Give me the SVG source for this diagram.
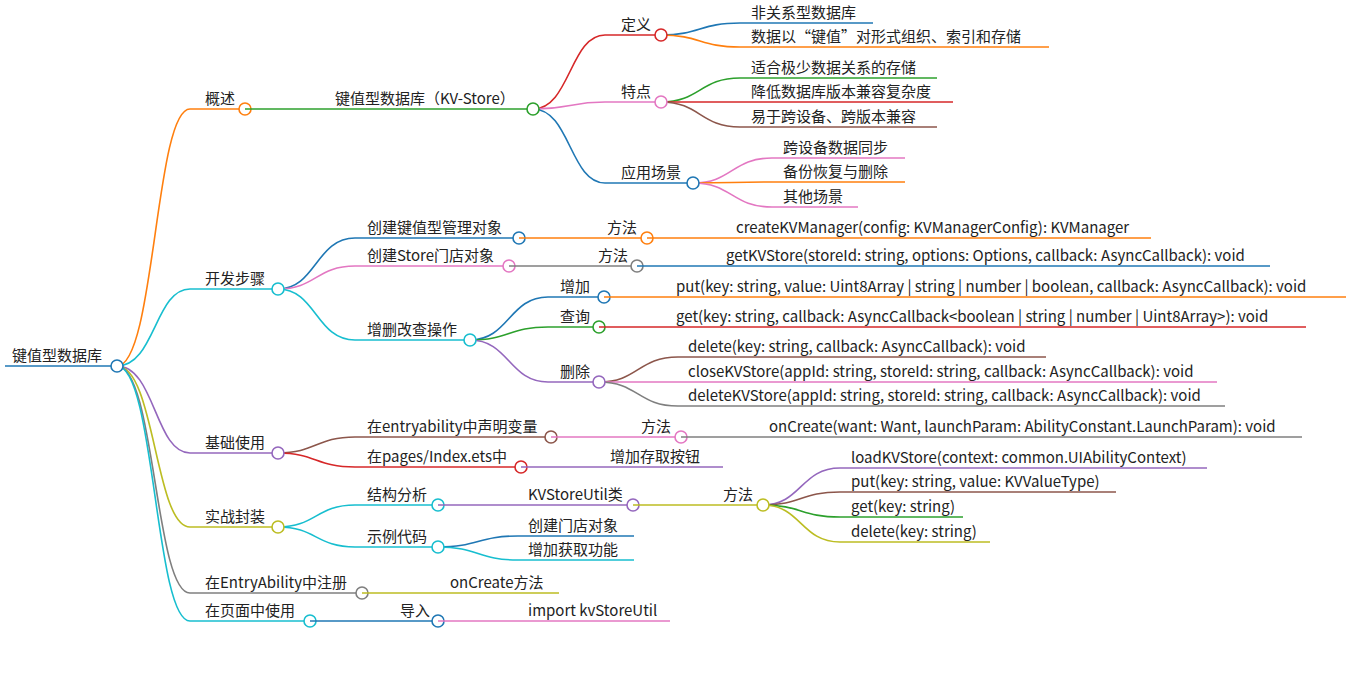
<svg xmlns="http://www.w3.org/2000/svg" width="1351" height="674" viewBox="0 0 1351 674">
<style>
text{font-family:"Noto Sans CJK SC","Liberation Sans",sans-serif;font-size:15px;fill:#222}
path,line{fill:none;stroke-width:1.6}
circle{fill:#fff;stroke-width:1.6}
.b{stroke:#1f77b4}.o{stroke:#ff7f0e}.g{stroke:#2ca02c}.r{stroke:#d62728}.p{stroke:#9467bd}.n{stroke:#8c564b}.k{stroke:#e377c2}.y{stroke:#7f7f7f}.l{stroke:#bcbd22}.c{stroke:#17becf}
</style>
<rect width="1351" height="674" fill="#fff"/>
<g id="connectors">
<path class="o" d="M117 366C155 366 155 109 190 109"/>
<path class="c" d="M117 366C155 366 155 289 190 289"/>
<path class="p" d="M117 366C155 366 155 453 190 453"/>
<path class="l" d="M117 366C155 366 155 527 190 527"/>
<path class="y" d="M117 366C155 366 155 593 190 593"/>
<path class="c" d="M117 366C155 366 155 621 190 621"/>
<path class="r" d="M533 109C570 109 570 35 605 35"/>
<path class="k" d="M533 109C570 109 570 102 605 102"/>
<path class="b" d="M533 109C570 109 570 183 605 183"/>
<path class="b" d="M661 35C700 35 700 23 740 23"/>
<path class="o" d="M661 35C700 35 700 47 740 47"/>
<path class="g" d="M661 102C700 102 700 78 740 78"/>
<path class="r" d="M661 102C700 102 700 102 740 102"/>
<path class="n" d="M661 102C700 102 700 127 740 127"/>
<path class="k" d="M693 183C732 183 732 158 772 158"/>
<path class="o" d="M693 183C732 183 732 182 772 182"/>
<path class="k" d="M693 183C732 183 732 207 772 207"/>
<path class="b" d="M278 289C316 289 316 238 355 238"/>
<path class="k" d="M278 289C316 289 316 266 355 266"/>
<path class="c" d="M278 289C316 289 316 340 355 340"/>
<path class="b" d="M470 340C509 340 509 297 548 297"/>
<path class="g" d="M470 340C509 340 509 327 548 327"/>
<path class="p" d="M470 340C509 340 509 382 548 382"/>
<path class="n" d="M599 382C638 382 638 357 678 357"/>
<path class="k" d="M599 382C638 382 638 382 678 382"/>
<path class="y" d="M599 382C638 382 638 406 678 406"/>
<path class="n" d="M278 453C316 453 316 437 355 437"/>
<path class="r" d="M278 453C316 453 316 467 355 467"/>
<path class="c" d="M278 527C316 527 316 505 355 505"/>
<path class="c" d="M278 527C316 527 316 547 355 547"/>
<path class="b" d="M438 547C478 547 478 536 518 536"/>
<path class="c" d="M438 547C478 547 478 560 518 560"/>
<path class="p" d="M763 505C801 505 801 468 840 468"/>
<path class="n" d="M763 505C801 505 801 492 840 492"/>
<path class="g" d="M763 505C801 505 801 517 840 517"/>
<path class="l" d="M763 505C801 505 801 542 840 542"/>
</g>
<g id="root"><line class="b" x1="5" y1="366" x2="117" y2="366" stroke-width="3"/><text x="12" y="361" font-size="16">键值型数据库</text><circle class="b" cx="117" cy="366" r="6"/></g>
<g id="n-gs"><line class="o" x1="190" y1="109" x2="245" y2="109"/><text x="205" y="104">概述</text><circle class="o" cx="245" cy="109" r="6"/></g>
<g id="n-kv"><line class="g" x1="245" y1="109" x2="533" y2="109"/><text x="335" y="104">键值型数据库（KV-Store）</text><circle class="g" cx="533" cy="109" r="6"/></g>
<g id="n-dy"><line class="r" x1="605" y1="35" x2="661" y2="35"/><text x="621" y="30">定义</text><circle class="r" cx="661" cy="35" r="6"/></g>
<g id="n-td"><line class="k" x1="605" y1="102" x2="661" y2="102"/><text x="621" y="97">特点</text><circle class="k" cx="661" cy="102" r="6"/></g>
<g id="n-yy"><line class="b" x1="605" y1="183" x2="693" y2="183"/><text x="621" y="178">应用场景</text><circle class="b" cx="693" cy="183" r="6"/></g>
<g id="l1"><line class="b" x1="740" y1="23" x2="873" y2="23"/><text x="751" y="18">非关系型数据库</text></g>
<g id="l2"><line class="o" x1="740" y1="47" x2="1049" y2="47"/><text x="751" y="42">数据以“键值”对形式组织、索引和存储</text></g>
<g id="l3"><line class="g" x1="740" y1="78" x2="937" y2="78"/><text x="751" y="73">适合极少数据关系的存储</text></g>
<g id="l4"><line class="r" x1="740" y1="102" x2="953" y2="102"/><text x="751" y="97">降低数据库版本兼容复杂度</text></g>
<g id="l5"><line class="n" x1="740" y1="127" x2="937" y2="127"/><text x="751" y="122">易于跨设备、跨版本兼容</text></g>
<g id="l6"><line class="k" x1="772" y1="158" x2="905" y2="158"/><text x="783" y="153">跨设备数据同步</text></g>
<g id="l7"><line class="o" x1="772" y1="182" x2="905" y2="182"/><text x="783" y="177">备份恢复与删除</text></g>
<g id="l8"><line class="k" x1="772" y1="207" x2="858" y2="207"/><text x="783" y="202">其他场景</text></g>
<g id="n-kf"><line class="c" x1="190" y1="289" x2="278" y2="289"/><text x="205" y="284">开发步骤</text><circle class="c" cx="278" cy="289" r="6"/></g>
<g id="n-cj1"><line class="b" x1="355" y1="238" x2="519" y2="238"/><text x="367" y="233">创建键值型管理对象</text><circle class="b" cx="519" cy="238" r="6"/></g>
<g id="n-ff1"><line class="o" x1="519" y1="238" x2="647" y2="238"/><text x="607" y="233">方法</text><circle class="o" cx="647" cy="238" r="6"/></g>
<g id="l9"><line class="o" x1="647" y1="238" x2="1151" y2="238"/><text x="736" y="233">createKVManager(config: KVManagerConfig): KVManager</text></g>
<g id="n-cj2"><line class="k" x1="355" y1="266" x2="509" y2="266"/><text x="367" y="261">创建Store门店对象</text><circle class="k" cx="509" cy="266" r="6"/></g>
<g id="n-ff2"><line class="y" x1="509" y1="266" x2="637" y2="266"/><text x="598" y="261">方法</text><circle class="y" cx="637" cy="266" r="6"/></g>
<g id="l10"><line class="b" x1="637" y1="266" x2="1270" y2="266"/><text x="726" y="261">getKVStore(storeId: string, options: Options, callback: AsyncCallback): void</text></g>
<g id="n-zsgc"><line class="c" x1="355" y1="340" x2="470" y2="340"/><text x="367" y="335">增删改查操作</text><circle class="c" cx="470" cy="340" r="6"/></g>
<g id="n-zj"><line class="b" x1="548" y1="297" x2="604" y2="297"/><text x="560" y="292">增加</text><circle class="b" cx="604" cy="297" r="6"/></g>
<g id="l11"><line class="o" x1="604" y1="297" x2="1346" y2="297"/><text x="676" y="292">put(key: string, value: Uint8Array | string | number | boolean, callback: AsyncCallback): void</text></g>
<g id="n-cx"><line class="g" x1="548" y1="327" x2="599" y2="327"/><text x="560" y="322">查询</text><circle class="g" cx="599" cy="327" r="6"/></g>
<g id="l12"><line class="r" x1="599" y1="327" x2="1306" y2="327"/><text x="676" y="322">get(key: string, callback: AsyncCallback&lt;boolean | string | number | Uint8Array&gt;): void</text></g>
<g id="n-sc"><line class="p" x1="548" y1="382" x2="599" y2="382"/><text x="560" y="377">删除</text><circle class="p" cx="599" cy="382" r="6"/></g>
<g id="l13"><line class="n" x1="678" y1="357" x2="1046" y2="357"/><text x="688" y="352">delete(key: string, callback: AsyncCallback): void</text></g>
<g id="l14"><line class="k" x1="678" y1="382" x2="1217" y2="382"/><text x="688" y="377">closeKVStore(appId: string, storeId: string, callback: AsyncCallback): void</text></g>
<g id="l15"><line class="y" x1="678" y1="406" x2="1225" y2="406"/><text x="688" y="401">deleteKVStore(appId: string, storeId: string, callback: AsyncCallback): void</text></g>
<g id="n-jc"><line class="p" x1="190" y1="453" x2="278" y2="453"/><text x="205" y="448">基础使用</text><circle class="p" cx="278" cy="453" r="6"/></g>
<g id="n-ea"><line class="n" x1="355" y1="437" x2="551" y2="437"/><text x="367" y="432">在entryability中声明变量</text><circle class="n" cx="551" cy="437" r="6"/></g>
<g id="n-ff3"><line class="k" x1="551" y1="437" x2="681" y2="437"/><text x="641" y="432">方法</text><circle class="k" cx="681" cy="437" r="6"/></g>
<g id="l16"><line class="y" x1="681" y1="437" x2="1302" y2="437"/><text x="769" y="432">onCreate(want: Want, launchParam: AbilityConstant.LaunchParam): void</text></g>
<g id="n-pg"><line class="r" x1="355" y1="467" x2="521" y2="467"/><text x="367" y="462">在pages/Index.ets中</text><circle class="r" cx="521" cy="467" r="6"/></g>
<g id="l17"><line class="p" x1="521" y1="467" x2="723" y2="467"/><text x="610" y="462">增加存取按钮</text></g>
<g id="n-sz"><line class="l" x1="190" y1="527" x2="278" y2="527"/><text x="205" y="522">实战封装</text><circle class="l" cx="278" cy="527" r="6"/></g>
<g id="n-jg"><line class="c" x1="355" y1="505" x2="438" y2="505"/><text x="367" y="500">结构分析</text><circle class="c" cx="438" cy="505" r="6"/></g>
<g id="n-ku"><line class="p" x1="438" y1="505" x2="633" y2="505"/><text x="528" y="500">KVStoreUtil类</text><circle class="p" cx="633" cy="505" r="6"/></g>
<g id="n-ff4"><line class="l" x1="633" y1="505" x2="763" y2="505"/><text x="723" y="500">方法</text><circle class="l" cx="763" cy="505" r="6"/></g>
<g id="l18"><line class="p" x1="840" y1="468" x2="1207" y2="468"/><text x="851" y="463">loadKVStore(context: common.UIAbilityContext)</text></g>
<g id="l19"><line class="n" x1="840" y1="492" x2="1116" y2="492"/><text x="851" y="487">put(key: string, value: KVValueType)</text></g>
<g id="l20"><line class="g" x1="840" y1="517" x2="963" y2="517"/><text x="851" y="512">get(key: string)</text></g>
<g id="l21"><line class="l" x1="840" y1="542" x2="990" y2="542"/><text x="851" y="537">delete(key: string)</text></g>
<g id="n-sl"><line class="c" x1="355" y1="547" x2="438" y2="547"/><text x="367" y="542">示例代码</text><circle class="c" cx="438" cy="547" r="6"/></g>
<g id="l22"><line class="b" x1="518" y1="536" x2="634" y2="536"/><text x="528" y="531">创建门店对象</text></g>
<g id="l23"><line class="c" x1="518" y1="560" x2="634" y2="560"/><text x="528" y="555">增加获取功能</text></g>
<g id="n-zc"><line class="y" x1="190" y1="593" x2="362" y2="593"/><text x="205" y="588">在EntryAbility中注册</text><circle class="y" cx="362" cy="593" r="6"/></g>
<g id="l24"><line class="l" x1="362" y1="593" x2="559" y2="593"/><text x="450" y="588">onCreate方法</text></g>
<g id="n-ym"><line class="c" x1="190" y1="621" x2="310" y2="621"/><text x="205" y="616">在页面中使用</text><circle class="c" cx="310" cy="621" r="6"/></g>
<g id="n-dr"><line class="b" x1="310" y1="621" x2="438" y2="621"/><text x="400" y="616">导入</text><circle class="b" cx="438" cy="621" r="6"/></g>
<g id="l25"><line class="k" x1="438" y1="621" x2="670" y2="621"/><text x="528" y="616">import kvStoreUtil</text></g>
</svg>
